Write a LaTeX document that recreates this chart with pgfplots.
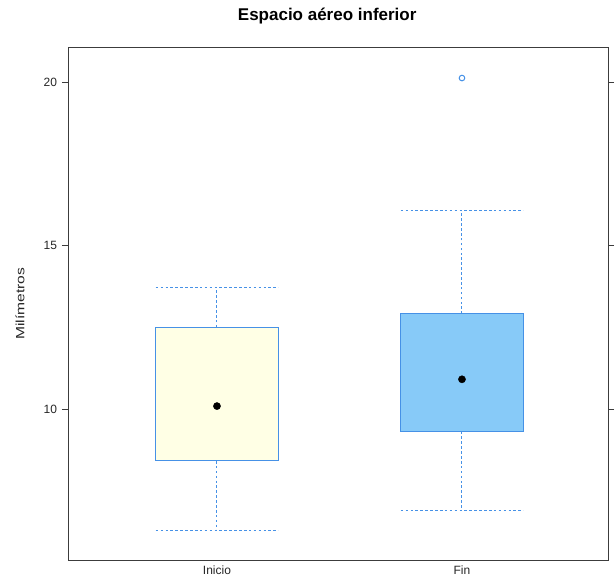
\documentclass[border=0pt]{standalone}
\usepackage{graphicx}
\usepackage{pgfplots}
\pgfplotsset{compat=1.18}
\usepackage{fontspec}
\setmainfont{Liberation Sans}
\definecolor{inicioFill}{RGB}{255,255,229}
\definecolor{finFill}{RGB}{135,202,248}
\definecolor{boxEdge}{RGB}{70,145,230}
\definecolor{frameGray}{RGB}{60,60,60}
\begin{document}
\begin{tikzpicture}[x=1pt,y=1pt]
\useasboundingbox (0,0) rectangle (615,577);
\begin{axis}[
  at={(68pt,17pt)}, anchor=south west,
  scale only axis, width=540pt, height=513pt,
  xmin=0.392, xmax=2.596, ymin=5.38, ymax=21.08,
  xtick={1,2}, xticklabels={Inicio,Fin},
  ytick={10,15,20},
  ytick pos=both, yticklabel pos=left,
  tick align=outside,
  major tick length=6pt,
  xtick style={draw=none},
  ytick style={frameGray, line width=0.8pt},
  axis line style={frameGray, line width=0.8pt},
  tick label style={font=\fontsize{12}{14}\selectfont, black!85},
  yticklabel style={xshift=-1.5pt},
  xticklabel style={font=\fontsize{12}{14}\selectfont, yshift=4pt},
  /pgf/number format/assume math mode=true,
  ylabel={\scalebox{1.3}[1]{Milímetros}},
  ylabel style={at={(axis description cs:-0.089,0.5)}, anchor=center, font=\fontsize{12}{14}\selectfont, black!85},
  title={Espacio aéreo inferior},
  title style={at={(axis description cs:0.48,1)}, anchor=base, yshift=20pt, font=\bfseries\fontsize{17}{20}\selectfont},
  whisk/.style={draw=boxEdge, line width=1pt, dash pattern=on 2.6pt off 2.3pt, mark=none},
  boxst/.style={draw=boxEdge, line width=1pt, line join=miter, mark=none},
]
% Inicio: lower whisker 6.27, Q1 8.41, median 10.09, Q3 12.50, upper whisker 13.72
\addplot[whisk] coordinates {(1,12.50) (1,13.72)};
\addplot[whisk] coordinates {(0.75,13.72) (1.25,13.72)};
\addplot[whisk] coordinates {(1,8.41) (1,6.27)};
\addplot[whisk] coordinates {(0.75,6.27) (1.25,6.27)};
\addplot[boxst, fill=inicioFill] coordinates {(0.75,8.41) (1.25,8.41) (1.25,12.50) (0.75,12.50)} -- cycle;
% Fin: lower whisker 6.90, Q1 9.31, median 10.91, Q3 12.91, upper whisker 16.09, outlier 20.13
\addplot[whisk] coordinates {(2,12.91) (2,16.09)};
\addplot[whisk] coordinates {(1.75,16.09) (2.25,16.09)};
\addplot[whisk] coordinates {(2,9.31) (2,6.90)};
\addplot[whisk] coordinates {(1.75,6.90) (2.25,6.90)};
\addplot[boxst, fill=finFill] coordinates {(1.75,9.31) (2.25,9.31) (2.25,12.91) (1.75,12.91)} -- cycle;
% medians
\addplot[only marks, mark=*, mark size=3.6pt, black] coordinates {(1,10.09) (2,10.91)};
% outlier
\addplot[only marks, mark=o, mark size=2.8pt, boxEdge, line width=1pt] coordinates {(2,20.13)};
\end{axis}
\end{tikzpicture}
\end{document}
